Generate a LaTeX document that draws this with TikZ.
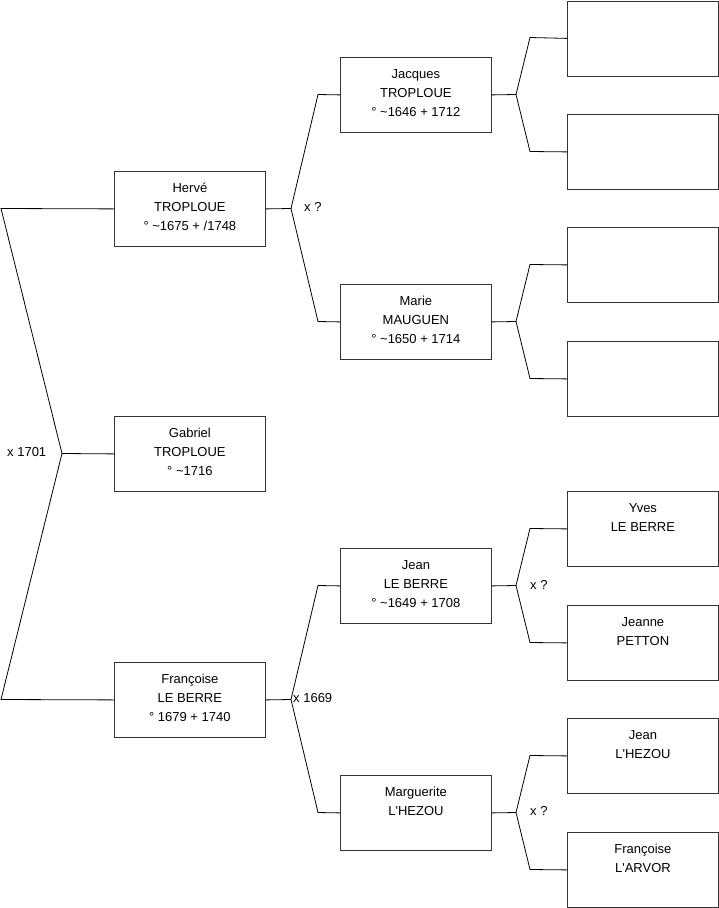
\documentclass[tikz,border=0pt]{standalone}
\usepackage{fontspec}
\setmainfont{Liberation Sans}
\newcommand\ptext[1]{\parbox[c][75pt][t]{151pt}{\centering\fontsize{13}{19}\selectfont\rule{0pt}{21pt}#1\par}}
\tikzset{
  person/.style={draw=black!80, line width=0.8pt, fill=white, minimum width=151pt, minimum height=75pt, inner sep=0pt, anchor=north west},
  conn/.style={line width=0.8pt, draw=black},
  lab/.style={font=\fontsize{13}{15}\selectfont, inner sep=0pt, anchor=west}
}
\begin{document}
\begin{tikzpicture}[x=1pt,y=-1pt]
\useasboundingbox (0,0) rectangle (719,908);
% generation 1
\node[person] (herve) at (114,171) {\ptext{Hervé\\TROPLOUE\\° \textasciitilde1675 + /1748}};
\node[person] (gabriel) at (114,416) {\ptext{Gabriel\\TROPLOUE\\° \textasciitilde1716}};
\node[person] (francoise) at (114,662) {\ptext{Françoise\\LE BERRE\\° 1679 + 1740}};
% generation 2
\node[person] (jacques) at (340,57) {\ptext{Jacques\\TROPLOUE\\° \textasciitilde1646 + 1712}};
\node[person] (marie) at (340,284) {\ptext{Marie\\MAUGUEN\\° \textasciitilde1650 + 1714}};
\node[person] (jean) at (340,548) {\ptext{Jean\\LE BERRE\\° \textasciitilde1649 + 1708}};
\node[person] (marguerite) at (340,775) {\ptext{Marguerite\\L\textquotesingle HEZOU}};
% generation 3
\node[person] (g1) at (567,0.5) {\ptext{}};
\node[person] (g2) at (567,114) {\ptext{}};
\node[person] (g3) at (567,227) {\ptext{}};
\node[person] (g4) at (567,341) {\ptext{}};
\node[person] (yves) at (567,491) {\ptext{Yves\\LE BERRE}};
\node[person] (jeanne) at (567,605) {\ptext{Jeanne\\PETTON}};
\node[person] (jeanl) at (567,718) {\ptext{Jean\\L\textquotesingle HEZOU}};
\node[person] (francoisel) at (567,832) {\ptext{Françoise\\L\textquotesingle ARVOR}};
% fork coordinates
\coordinate (rt) at (1,208.5);
\coordinate (rv) at (62,453.5);
\coordinate (rb) at (1,699.5);
\coordinate (hv) at (291,208.5);
\coordinate (ht) at (318,94.5);
\coordinate (hb) at (318,321.5);
\coordinate (fv) at (291,699.5);
\coordinate (ft) at (318,585.5);
\coordinate (fb) at (318,812.5);
\coordinate (jv) at (516,94.5);
\coordinate (jt) at (530,37.5);
\coordinate (jb) at (530,151.5);
\coordinate (mv) at (516,321.5);
\coordinate (mt) at (530,264.5);
\coordinate (mb) at (530,378.5);
\coordinate (nv) at (516,585.5);
\coordinate (nt) at (530,528.5);
\coordinate (nb) at (530,642.5);
\coordinate (lv) at (516,812.5);
\coordinate (lt) at (530,755.5);
\coordinate (lb) at (530,869.5);
% connectors
\draw[conn] (herve.west) -- (rt) -- (rv) -- (rb) -- (francoise.west);
\draw[conn] (rv) -- (gabriel.west);
\draw[conn] (herve.east) -- (hv);
\draw[conn] (jacques.west) -- (ht) -- (hv) -- (hb) -- (marie.west);
\draw[conn] (francoise.east) -- (fv);
\draw[conn] (jean.west) -- (ft) -- (fv) -- (fb) -- (marguerite.west);
\draw[conn] (jacques.east) -- (jv);
\draw[conn] (g1.west) -- (jt) -- (jv) -- (jb) -- (g2.west);
\draw[conn] (marie.east) -- (mv);
\draw[conn] (g3.west) -- (mt) -- (mv) -- (mb) -- (g4.west);
\draw[conn] (jean.east) -- (nv);
\draw[conn] (yves.west) -- (nt) -- (nv) -- (nb) -- (jeanne.west);
\draw[conn] (marguerite.east) -- (lv);
\draw[conn] (jeanl.west) -- (lt) -- (lv) -- (lb) -- (francoisel.west);
% marriage labels
\node[lab] (m1) at (7,452) {x 1701};
\node[lab] (m2) at (304,207) {x ?};
\node[lab] (m3) at (293,698) {x 1669};
\node[lab] (m4) at (530,585) {x ?};
\node[lab] (m5) at (530,811) {x ?};
\end{tikzpicture}
\end{document}
